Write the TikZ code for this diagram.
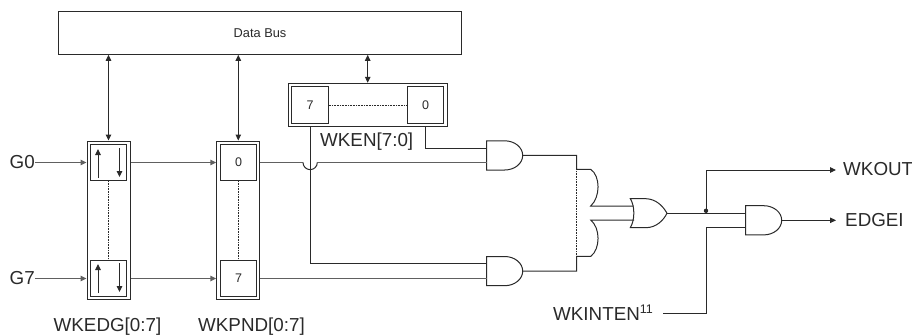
\documentclass[tikz,border=0pt]{standalone}
\usepackage{fontspec}
\setmainfont{Liberation Sans}
\usetikzlibrary{arrows.meta}
\definecolor{ink}{HTML}{2A2A2A}
\definecolor{wire}{HTML}{606060}
\tikzset{
  x=1pt,y=-1pt,
  every node/.style={text=ink,inner sep=0pt},
  boxline/.style={draw=ink,line width=1pt},
  outerbox/.style={boxline,fill=white,rectangle},
  cell/.style={boxline,fill=white,rectangle,minimum width=36.5pt,minimum height=36.2pt,font=\fontsize{12.5}{14}\selectfont},
  bigtext/.style={font=\fontsize{18.8}{21}\selectfont},
  thin wire/.style={draw=ink,line width=1pt},
  grey wire/.style={draw=wire,line width=1.4pt},
  dots/.style={draw=ink,line width=0.5pt,dash pattern=on 0.7pt off 0.9pt},
  tip/.style={-{Triangle[length=6pt,width=5.5pt]}},
  tips/.style={{Triangle[length=6pt,width=5.5pt]}-{Triangle[length=6pt,width=5.5pt]}},
  gate/.style={draw=ink,line width=1pt,fill=white},
  pics/andgate/.style={code={
    \draw[gate] (0,-14.6) -- (18,-14.6) arc[start angle=90,end angle=-90,x radius=18,y radius=-14.6] -- (0,14.6) -- cycle;
    \coordinate (-a) at (0,-7.2);
    \coordinate (-b) at (0,7.6);
    \coordinate (-o) at (36,0);
  }},
}
\begin{document}
\begin{tikzpicture}
\useasboundingbox (0,0) rectangle (912,335);
% data bus
\node[outerbox,minimum width=403.4pt,minimum height=42.6pt,font=\fontsize{12.8}{14}\selectfont] (bus) at (260,33) {Data Bus};
% register frames
\node[outerbox,minimum width=43pt,minimum height=158pt] (edg) at (108.5,220) {};
\node[outerbox,minimum width=43pt,minimum height=158pt] (pnd) at (238.3,220) {};
\node[outerbox,minimum width=158.7pt,minimum height=43.4pt] (wken) at (367.7,105) {};
% cells
\node[cell] (edg0) at (108.7,162.5) {};
\node[cell] (edg7) at (108.7,278.5) {};
\node[cell] (pnd0) at (238.5,162.5) {0};
\node[cell] (pnd7) at (238.5,278.5) {7};
\node[cell] (en7) at (310,105) {7};
\node[cell] (en0) at (425.6,105) {0};
\draw[dots] (edg0) -- (edg7);
\draw[dots] (pnd0) -- (pnd7);
\draw[dots] (en7) -- (en0);
% edge-select glyphs
\coordinate (e0u) at (98,178); \coordinate (e0ut) at (98,149);
\coordinate (e0d) at (119.5,148); \coordinate (e0dt) at (119.5,177);
\coordinate (e7u) at (98,293); \coordinate (e7ut) at (98,264);
\coordinate (e7d) at (119.5,263); \coordinate (e7dt) at (119.5,292);
\draw[thin wire,tip] (e0u) -- (e0ut);
\draw[thin wire,tip] (e0d) -- (e0dt);
\draw[thin wire,tip] (e7u) -- (e7ut);
\draw[thin wire,tip] (e7d) -- (e7dt);
% bus connections
\draw[thin wire,tips] (bus.south -| edg) -- (edg.north);
\draw[thin wire,tips] (bus.south -| pnd) -- (pnd.north);
\draw[thin wire,tips] (bus.south -| wken) -- (wken.north);
% labels
\node[bigtext,anchor=west] (g0) at (9.5,162.5) {G0};
\node[bigtext,anchor=west] (g7) at (9.5,278.5) {G7};
\node[bigtext,anchor=base west] (ledg) at (53.5,331) {WKEDG[0:7]};
\node[bigtext,anchor=base west] (lpnd) at (198,331) {WKPND[0:7]};
\node[bigtext,anchor=base west] (len) at (320,146.5) {WKEN[7:0]};
\node[bigtext,anchor=base west] (lint) at (553,320) {WKINTEN\textsuperscript{\fontsize{12.5}{12}\selectfont 11}};
\node[bigtext,anchor=west] (wkout) at (843,169.5) {WKOUT};
\node[bigtext,anchor=west] (edgei) at (845,220.3) {EDGEI};
% input wires
\draw[grey wire,tip] (g0.east |- edg0) -- (edg.west |- edg0);
\draw[grey wire,tip] (g7.east |- edg7) -- (edg.west |- edg7);
\draw[grey wire,tip] (edg.east |- edg0) -- (pnd.west |- pnd0);
\draw[grey wire,tip] (edg.east |- edg7) -- (pnd.west |- pnd7);
% gates
\pic (a1) at (486.7,155.4) {andgate};
\pic (a2) at (486.7,271.1) {andgate};
\pic (a3) at (745.7,220.3) {andgate};
\draw[gate] (630.3,198.7) -- (646,198.7) .. controls (656,199) and (663,206) .. (667,213.3)
  .. controls (663,221) and (656,227.5) .. (646,227.7) -- (630.3,227.7)
  .. controls (635,220) and (635,206) .. (630.3,198.7) -- cycle;
\coordinate (oru) at (633.5,206);
\coordinate (orl) at (634,220);
\coordinate (oro) at (667,213.3);
% wires into the AND gates
\coordinate (hopa) at (303,162.5);
\coordinate (hopb) at (317.3,162.5);
\draw[grey wire] (pnd.east |- hopa) -- (hopa);
\draw[thin wire] (hopa) arc[start angle=180,end angle=0,radius=7.15];
\draw[grey wire] (hopb) -- (a1-b |- hopb);
\draw[grey wire] (pnd.east |- pnd7) -- (a2-b |- pnd7);
\draw[thin wire] (en0.south |- wken.south) |- (a1-a);
\draw[thin wire] (en7.south |- wken.south) |- (a2-a);
% collect to OR gate
\coordinate (c1) at (576.7,155.4);
\coordinate (c2) at (576.7,169.3);
\coordinate (c3) at (576.7,256.4);
\coordinate (c4) at (576.7,271.1);
\coordinate (h1) at (590.7,169.3);
\coordinate (h2) at (590.7,206);
\coordinate (h3) at (590.7,220);
\coordinate (h4) at (590.7,256.4);
\draw[thin wire] (a1-o) -- (c1) -- (c2) -- (h1) .. controls (600.5,176) and (600.5,197) .. (h2) -- (oru);
\draw[thin wire] (a2-o) -- (c4) -- (c3) -- (h4) .. controls (600.5,249) and (600.5,228) .. (h3) -- (orl);
\draw[dots] (c2) -- (c3);
% outputs
\coordinate (j) at (706,213.3);
\coordinate (kink) at (706,170);
\coordinate (kink2) at (706,313.7);
\coordinate (wkstart) at (663,313.7);
\draw[thin wire] (oro) -- (oro -| a3-a);
\draw[thin wire,tip] (j) -- (kink) -- (836,170);
\draw[thin wire] (wkstart) -- (kink2) |- (a3-b);
\draw[thin wire,tip] (a3-o) -- (836,220.3);
\fill[ink] (706,210.8) circle (2.2);
\end{tikzpicture}
\end{document}
